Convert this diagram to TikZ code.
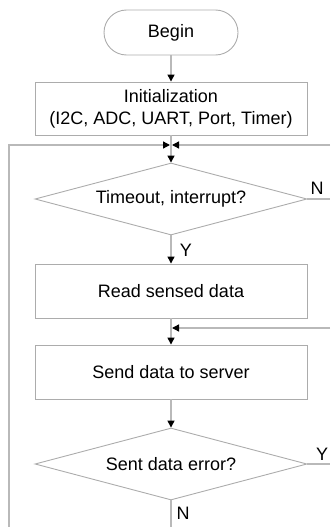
\documentclass[tikz,border=0pt]{standalone}
\usepackage{fontspec}
\setmainfont{Liberation Sans}
\usetikzlibrary{arrows.meta,shapes.geometric}
\definecolor{boxline}{RGB}{172,172,172}
\definecolor{flowline}{RGB}{185,185,185}
\begin{document}
\begin{tikzpicture}[x=1pt,y=-1pt,
  every node/.style={font=\fontsize{18}{22}\selectfont, text=black},
  procbox/.style={draw=boxline, line width=0.9pt, minimum width=272pt, minimum height=54pt, inner sep=0pt, align=center},
  termbox/.style={draw=boxline, line width=0.9pt, minimum width=134pt, minimum height=45pt, rounded corners=22.5pt, inner sep=0pt},
  decbox/.style={draw=boxline, line width=0.9pt, shape=diamond, shape aspect=3.78, minimum width=272pt, minimum height=72pt, inner sep=0pt},
  flow/.style={draw=flowline, line width=1.3pt},
  arr/.style={flow, -{Triangle[length=7pt,width=7pt,color=black]}},
  lbl/.style={inner sep=0pt}
]
\useasboundingbox (0,0) rectangle (330,527);

% blocks of the flow
\node[termbox] (begin) at (171,32.5) {Begin};
\node[procbox, minimum height=53pt] (init) at (171,108.5) {Initialization\\(I2C, ADC, UART, Port, Timer)};
\node[decbox] (timeout) at (171,199) {Timeout, interrupt?};
\node[procbox] (read) at (171,291) {Read sensed data};
\node[procbox] (send) at (171,372) {Send data to server};
\node[decbox] (senterr) at (171,464) {Sent data error?};

% junctions and loose ends of the loop lines
\coordinate (merge) at (171,145);
\coordinate (loopbottom) at (9,527);
\coordinate (rightin1) at (330,145);
\coordinate (rejoin) at (171,328);
\coordinate (rightin2) at (330,328);
\coordinate (nout) at (330,199);
\coordinate (yout) at (330,464);
\coordinate (nexit) at (171,527);

% connectors
\draw[arr] (begin) -- (init);
\draw[arr] (init) -- (timeout);
\draw[arr] (loopbottom) |- ([xshift=-1pt]merge);
\draw[arr] (rightin1) -- ([xshift=1pt]merge);
\draw[flow] (timeout.east) -- (nout);
\node[lbl] (nlabel1) at (317,188) {N};
\draw[arr] (timeout) -- (read);
\node[lbl] (ylabel1) at (186,250) {Y};
\draw[arr] (read) -- (send);
\draw[arr] (rightin2) -- ([xshift=1pt]rejoin);
\draw[arr] (send) -- (senterr);
\draw[flow] (senterr.east) -- (yout);
\node[lbl] (ylabel2) at (322,454) {Y};
\draw[flow] (senterr.south) -- (nexit);
\node[lbl] (nlabel2) at (183,513) {N};
\end{tikzpicture}
\end{document}
